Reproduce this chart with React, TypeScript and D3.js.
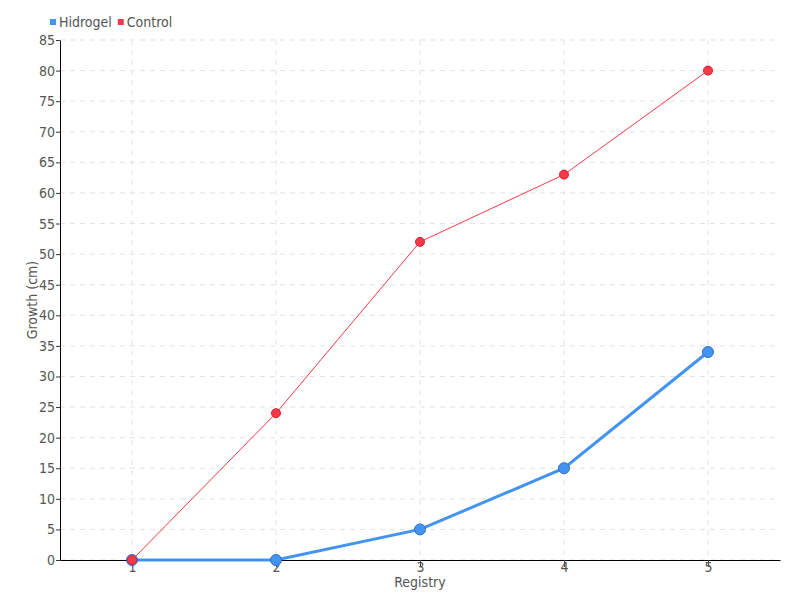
import React, { useRef, useEffect } from 'react';
import * as d3 from 'd3';

const registries = ['1', '2', '3', '4', '5'];
const hidrogel = [0, 0, 5, 15, 34];
const control = [0, 24, 52, 63, 80];
const yTicks = d3.range(0, 86, 5);

const seriesDefs = [
    { name: 'Hidrogel', values: hidrogel, color: '#4294f0', width: 3, r: 5.5, stroke: '#2f6fcf' },
    { name: 'Control', values: control, color: '#f5394a', width: 1, r: 4.5, stroke: '#e01a2a' },
];

const FONT = '"DejaVu Sans Condensed", "Liberation Sans Narrow", sans-serif';

const App: React.FC = () => {
    const svgRef = useRef<SVGSVGElement>(null);
    const width = 800;
    const height = 600;
    const margin = { top: 40, right: 20, bottom: 40, left: 60 };

    useEffect(() => {
        if (!svgRef.current) return;
        const svg = d3.select(svgRef.current);
        svg.selectAll('*').remove();

        const innerWidth = width - margin.left - margin.right;
        const innerHeight = height - margin.top - margin.bottom;

        const xScale = d3.scalePoint<string>()
            .domain(registries)
            .range([0, innerWidth])
            .padding(0.5);

        const yScale = d3.scaleLinear()
            .domain([0, 85])
            .range([innerHeight, 0]);

        const g = svg.append('g')
            .attr('transform', `translate(${margin.left},${margin.top})`);

        // Grid lines
        g.append('g')
            .selectAll('line')
            .data(yTicks)
            .join('line')
            .attr('x1', 0)
            .attr('x2', innerWidth)
            .attr('y1', d => yScale(d))
            .attr('y2', d => yScale(d))
            .attr('stroke', '#e3e3e3')
            .attr('stroke-dasharray', '5,5');

        g.append('g')
            .selectAll('line')
            .data(registries)
            .join('line')
            .attr('x1', d => xScale(d)!)
            .attr('x2', d => xScale(d)!)
            .attr('y1', 0)
            .attr('y2', innerHeight)
            .attr('stroke', '#e3e3e3')
            .attr('stroke-dasharray', '5,5');

        // Axes
        const yAxis = g.append('g')
            .call(d3.axisLeft(yScale).tickValues(yTicks).tickSize(4).tickSizeOuter(0));
        yAxis.select('.domain').attr('stroke', '#000');
        yAxis.selectAll('.tick line').attr('stroke', '#333');
        yAxis.selectAll('.tick text')
            .attr('x', -5)
            .attr('fill', '#555')
            .style('font-family', FONT)
            .style('font-size', '14px');

        const xAxis = g.append('g')
            .attr('transform', `translate(0,${innerHeight})`)
            .call(d3.axisBottom(xScale).tickSize(7).tickSizeOuter(0));
        xAxis.select('.domain').attr('stroke', '#000');
        xAxis.selectAll('.tick line').attr('stroke', '#444');
        xAxis.selectAll('.tick text')
            .attr('y', 2)
            .attr('fill', '#555')
            .style('font-family', FONT)
            .style('font-size', '14px');

        // Axis titles
        g.append('text')
            .attr('x', xScale('3')!)
            .attr('y', innerHeight + 27)
            .attr('text-anchor', 'middle')
            .attr('fill', '#555')
            .style('font-family', FONT)
            .style('font-size', '14px')
            .text('Registry');

        g.append('text')
            .attr('transform', `translate(${-23},${innerHeight / 2}) rotate(-90)`)
            .attr('text-anchor', 'middle')
            .attr('fill', '#555')
            .style('font-family', FONT)
            .style('font-size', '14px')
            .text('Growth (cm)');

        // Lines and points
        const line = d3.line<number>()
            .x((_, i) => xScale(registries[i])!)
            .y(d => yScale(d));

        seriesDefs.forEach(s => {
            g.append('path')
                .datum(s.values)
                .attr('fill', 'none')
                .attr('stroke', s.color)
                .attr('stroke-width', s.width)
                .attr('d', line);
        });

        seriesDefs.forEach(s => {
            g.append('g')
                .selectAll('circle')
                .data(s.values)
                .join('circle')
                .attr('cx', (_, i) => xScale(registries[i])!)
                .attr('cy', d => yScale(d))
                .attr('r', s.r)
                .attr('fill', s.color)
                .attr('stroke', s.stroke)
                .attr('stroke-width', 1);
        });

        // Legend
        const legend = svg.append('g').attr('transform', 'translate(50,16)');
        let offset = 0;
        seriesDefs.forEach(s => {
            const item = legend.append('g').attr('transform', `translate(${offset},0)`);
            item.append('rect')
                .attr('x', 0)
                .attr('y', 3)
                .attr('width', 6)
                .attr('height', 6)
                .attr('fill', s.color);
            const t = item.append('text')
                .attr('x', 9)
                .attr('y', 11)
                .attr('fill', '#555')
                .style('font-family', FONT)
                .style('font-size', '14px')
                .text(s.name);
            const w = (t.node() as SVGTextElement).getComputedTextLength();
            offset += 9 + w + 6;
        });
    }, []);

    return (
        <svg
            ref={svgRef}
            width={width}
            height={height}
            style={{ position: 'absolute', left: 0, top: 0, background: '#fff' }}
        />
    );
};

export default App;
